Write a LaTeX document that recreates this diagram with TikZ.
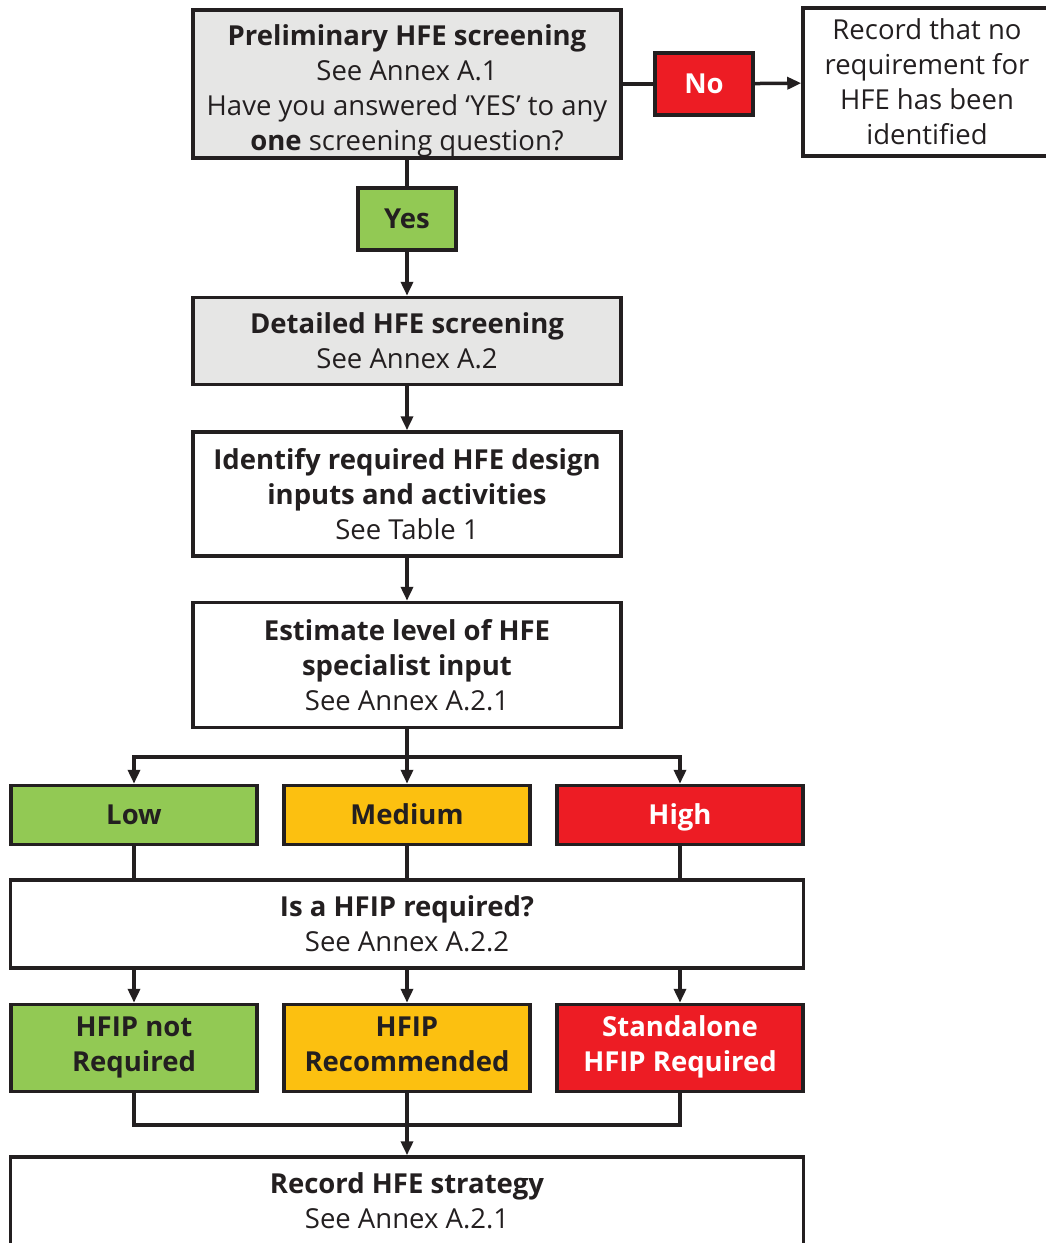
\documentclass[tikz,border=0pt]{standalone}
\usepackage{fontspec}
\setmainfont{Open Sans}
\usepackage{tikz}
\usetikzlibrary{arrows.meta, positioning, calc}
\definecolor{lineGrey}{HTML}{231F20}
\definecolor{boxGrey}{HTML}{E6E6E5}
\definecolor{lowGreen}{HTML}{92C954}
\definecolor{medAmber}{HTML}{FCC010}
\definecolor{highRed}{HTML}{ED1C24}

\tikzset{
  box/.style={draw=lineGrey, line width=3.5pt, align=center, inner sep=0pt},
  wideBox/.style={box, minimum width=428pt},
  levelBox/.style={box, minimum width=246pt, font=\fontsize{27.5}{35}\selectfont\bfseries,
    execute at begin node={\rule{0pt}{27pt}}, execute at end node={\rule[-8pt]{0pt}{0pt}}},
  flowArrow/.style={-{Triangle[length=14pt,width=12pt]}}
}

\begin{document}
\begin{tikzpicture}[x=1pt, y=-1pt, color=lineGrey, line width=3.5pt, font=\fontsize{27.5}{35}\selectfont]
    \useasboundingbox (0,0) rectangle (1046,1243);

    % screening
    \node[wideBox, fill=boxGrey, minimum height=148pt] (prelim) at (407,84) {\rule{0pt}{34pt}\textbf{Preliminary HFE screening}\\See Annex A.1\\Have you answered ‘YES’ to any\\\textbf{one} screening question?};
    \node[levelBox, fill=highRed, text=white, minimum width=98pt, minimum height=62pt] (no) at (704,84) {No};
    \node[box, minimum width=248pt, minimum height=148pt] (noreq) at (927,82) {Record that no\\requirement for\\HFE has been\\identified};
    \node[levelBox, fill=lowGreen, minimum width=98pt, minimum height=62pt] (yes) at (407,219) {Yes};
    \node[wideBox, fill=boxGrey, minimum height=87pt] (detailed) at (407,341) {\textbf{Detailed HFE screening}\\See Annex A.2};
    \node[wideBox, minimum height=124pt] (identify) at (407,494) {\textbf{Identify required HFE design}\\\textbf{inputs and activities}\\See Table 1};
    \node[wideBox, minimum height=125pt] (estimate) at (407,665) {\textbf{Estimate level of HFE}\\\textbf{specialist input}\\See Annex A.2.1};

    % level of input
    \node[levelBox, fill=lowGreen, minimum height=59pt] (low) at (134,815) {Low};
    \node[levelBox, fill=medAmber, minimum height=59pt] (medium) at (407,815) {Medium};
    \node[levelBox, fill=highRed, text=white, minimum height=59pt] (high) at (680,815) {High};
    \node[box, minimum width=793pt, minimum height=88pt] (hfip) at (407,924) {\textbf{Is a HFIP required?}\\See Annex A.2.2};

    % outcome
    \node[levelBox, fill=lowGreen, minimum height=87pt] (notreq) at (134,1048) {HFIP not\\Required};
    \node[levelBox, fill=medAmber, minimum height=87pt] (recom) at (407,1048) {HFIP\\Recommended};
    \node[levelBox, fill=highRed, text=white, minimum height=87pt] (standalone) at (680,1048) {Standalone\\HFIP Required};
    \node[box, minimum width=793pt, minimum height=88pt] (strategy) at (407,1201) {\textbf{Record HFE strategy}\\See Annex A.2.1};

    \coordinate (split) at (407,757);
    \coordinate (join) at (407,1125);

    % connectors
    \draw (prelim) -- (no);
    \draw[flowArrow] (no) -- (noreq);
    \draw (prelim) -- (yes);
    \draw[flowArrow] (yes) -- (detailed);
    \draw[flowArrow] (detailed) -- (identify);
    \draw[flowArrow] (identify) -- (estimate);
    \draw[flowArrow] (estimate) -- (medium);
    \draw[flowArrow] (split) -| (low);
    \draw[flowArrow] (split) -| (high);
    \foreach \lvl in {low, medium, high} \draw (\lvl) -- (\lvl |- hfip.north);
    \draw[flowArrow] (hfip.south -| low) -- (notreq);
    \draw[flowArrow] (hfip.south -| recom) -- (recom);
    \draw[flowArrow] (hfip.south -| standalone) -- (standalone);
    \draw (notreq) |- (join);
    \draw (standalone) |- (join);
    \draw[flowArrow] (recom) -- (strategy);
\end{tikzpicture}
\end{document}
